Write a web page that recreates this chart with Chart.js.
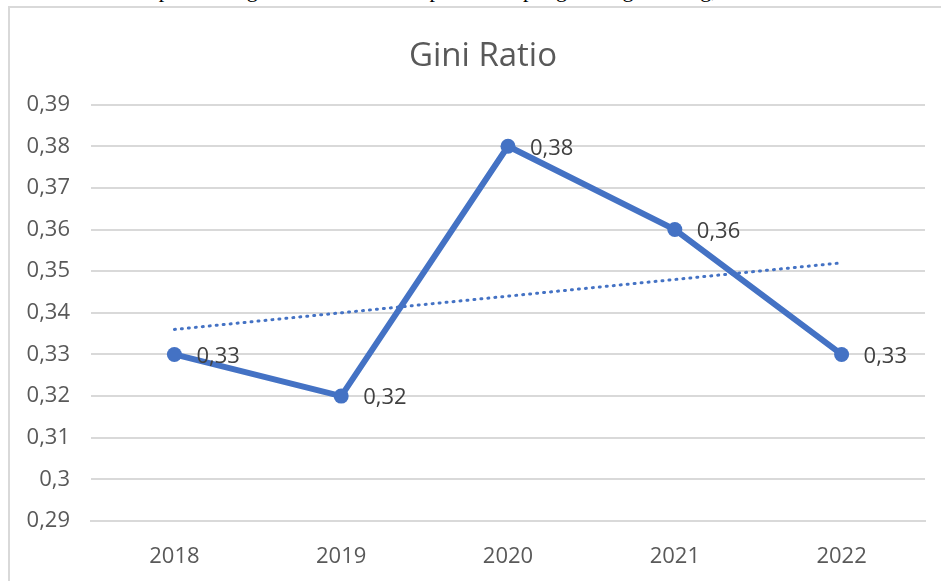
<!DOCTYPE html>
<html>
<head>
<meta charset="utf-8">
<script src="https://cdn.jsdelivr.net/npm/chart.js@4"></script>
<style>
  html, body { margin: 0; padding: 0; background: #fff; overflow: hidden; }
  #topText {
    position: absolute; left: 0; top: -23px; width: 941px; white-space: nowrap;
    font-family: "Liberation Serif", serif; font-size: 22px; color: #000;
  }
  #frame {
    position: absolute; left: 8px; top: 6px; width: 1000px; height: 1000px;
    border: 2px solid #d9d9d9; box-sizing: border-box; background: #fff;
  }
  #wrap { position: absolute; left: 0; top: 0; width: 941px; height: 581px; }
</style>
</head>
<body>
<div id="topText">berdasarkan hasil perbandingan Gini Ratio Kabupaten Lampung Tulang Bawang, tersebut</div>
<div id="frame"></div>
<div id="wrap"><canvas id="giniChart" width="941" height="581"></canvas></div>
<script>
var years = ["2018", "2019", "2020", "2021", "2022"];
var giniValues = [0.33, 0.32, 0.38, 0.36, 0.33];
// trend line ends
var trendValues = [0.336, null, null, null, 0.352];
var yMin = 0.29, yMax = 0.39, yStep = 0.01;

function formatComma(v) {
  return String(Math.round(v * 100) / 100).replace(".", ",");
}

var dataLabels = {
  id: "dataLabels",
  afterLayout: function(chart) {
    // centre the title over the framed box, not the whole canvas
    if (chart.titleBlock) chart.titleBlock.left = 41;
  },
  afterDatasetsDraw: function(chart) {
    var ctx = chart.ctx;
    var meta = chart.getDatasetMeta(0);
    ctx.save();
    ctx.font = "22px 'Open Sans'";
    ctx.fillStyle = "#404040";
    ctx.textAlign = "left";
    ctx.textBaseline = "middle";
    meta.data.forEach(function(pt, i) {
      ctx.fillText(formatComma(giniValues[i]), pt.x + 22, pt.y + 2);
    });
    ctx.restore();
  }
};

new Chart(document.getElementById("giniChart"), {
  type: "line",
  data: {
    labels: years,
    datasets: [{
      data: giniValues,
      borderColor: "#4472C4",
      backgroundColor: "#4472C4",
      borderWidth: 6,
      pointRadius: 7.5,
      pointBorderWidth: 0,
      tension: 0
    }, {
      data: trendValues,
      borderColor: "#4472C4",
      borderWidth: 3,
      borderDash: [1, 6],
      borderCapStyle: "round",
      pointRadius: 0,
      spanGaps: true
    }]
  },
  options: {
    responsive: false,
    animation: false,
    layout: { padding: { left: 0, right: 16, top: 0, bottom: 0 } },
    plugins: {
      legend: { display: false },
      tooltip: { enabled: false },
      title: {
        display: true,
        text: "Gini Ratio",
        color: "#595959",
        font: { family: "'Open Sans'", size: 33, weight: "normal", lineHeight: 1.2 },
        padding: { top: 37, bottom: 28 }
      }
    },
    scales: {
      x: {
        offset: true,
        grid: { display: false, drawTicks: false },
        border: { display: true, color: "#d9d9d9", width: 2 },
        ticks: { color: "#595959", font: { family: "'Open Sans'", size: 22 }, padding: 23 },
        afterFit: function(s) { s.height = 60; }
      },
      y: {
        min: yMin,
        max: yMax,
        grid: { color: "#d9d9d9", lineWidth: 2, drawTicks: false },
        border: { display: false },
        ticks: {
          stepSize: yStep,
          color: "#595959",
          font: { family: "'Open Sans'", size: 22 },
          padding: 21,
          callback: function(v) { return formatComma(v); }
        },
        afterFit: function(s) { s.width = 91; }
      }
    }
  },
  plugins: [dataLabels]
});
</script>
</body>
</html>
